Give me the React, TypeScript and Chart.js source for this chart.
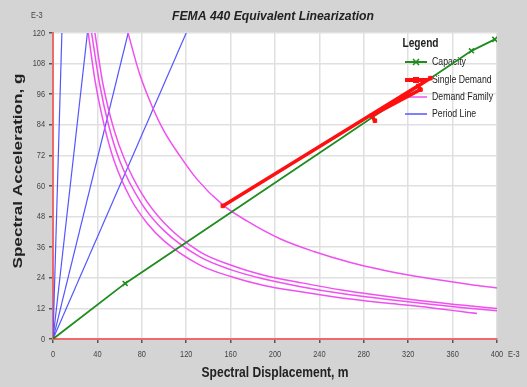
import React, { useEffect, useRef } from "react";
import { Chart, registerables } from "chart.js";

Chart.register(...registerables);

// ---- Data, units: E-3 ----
const capacityX = [0, 65, 377, 398];
const capacityY = [0, 21.8, 113, 117.5];

const singleDemandX = [153, 340, 329, 331, 287, 290];
const singleDemandY = [52.2, 102.3, 99.2, 97.8, 87.6, 85.6];

const demandOuterX = [67, 78, 90, 100, 114, 130, 153, 175, 205, 235, 268, 300, 319, 350, 380, 400];
const demandOuterY = [121, 104, 90.5, 81.5, 72, 62.5, 52.6, 46.2, 39.2, 34.3, 30, 26.8, 25.2, 23, 21.1, 20];

const demandHighX = [37.6, 45, 55, 64.7, 80, 100, 132, 160, 190, 222, 260, 300, 340, 370, 400];
const demandHighY = [120.5, 100, 82, 70.2, 57, 45.6, 34.3, 29, 25, 22.2, 19.2, 16.8, 14.6, 13.2, 12];

const demandMidX = [34.6, 42, 50, 60, 80, 100, 132, 160, 190, 222, 260, 300, 340, 370, 400];
const demandMidY = [120.5, 100, 84, 70, 53, 42.5, 32.3, 27.2, 23.5, 20.6, 17.8, 15.6, 13.6, 12.3, 11.1];

const demandLowX = [31.6, 38, 46, 55, 70, 85, 100, 132, 160, 190, 222, 260, 300, 340, 382];
const demandLowY = [120.5, 101, 84, 70, 55, 45.3, 38.5, 29.1, 24.5, 21, 18.6, 16.1, 14.1, 12.3, 10];

const periodLineEndX = [8, 31, 67.7, 120];
const periodLineEndY = [120, 120, 120, 120];

const legendLabels = ["Capacity", "Single Demand", "Demand Family", "Period Line"];
const chartTitle = "FEMA 440 Equivalent Linearization";
const xTitle = "Spectral Displacement, m";
const yTitle = "Spectral Acceleration, g";
const unitLabel = "E-3";

const GREEN = "#1e8c1e";
const RED = "#ff1010";
const MAGENTA = "#f050f0";
const BLUE = "#5555ff";
const TEXT = "#222";
const TICK_TEXT = "#444";

const pts = (xs: number[], ys: number[]) => xs.map((x, i) => ({ x, y: ys[i] }));

const FONT = "'Liberation Sans', Arial, sans-serif";

// draw text squeezed horizontally by factor sx, or to a target width if given
function txt(ctx: any, s: string, x: number, y: number, font: string, align: string, color: string, sx: number, width?: number) {
  ctx.save();
  ctx.font = font;
  ctx.fillStyle = color;
  ctx.textAlign = align;
  ctx.textBaseline = "middle";
  const k = width ? width / ctx.measureText(s).width : sx;
  ctx.translate(x, y);
  ctx.scale(k, 1);
  ctx.fillText(s, 0, 0);
  ctx.restore();
}

const decorPlugin = {
  id: "decor",
  beforeDraw(chart: any) {
    const { ctx, chartArea } = chart;
    ctx.save();
    ctx.fillStyle = "#d4d4d4";
    ctx.fillRect(0, 0, chart.width, chart.height);
    ctx.fillStyle = "#ffffff";
    ctx.fillRect(chartArea.left, chartArea.top, chartArea.right - chartArea.left, chartArea.bottom - chartArea.top);
    ctx.restore();
  },
  beforeDatasetsDraw(chart: any) {
    const { ctx } = chart;
    txt(ctx, "Legend", 420.5, 44, `bold 12px ${FONT}`, "center", TEXT, 1, 36);
    const rows = [62, 80, 97, 114];
    const colors = [GREEN, RED, MAGENTA, BLUE];
    const widths = [2, 4, 1.5, 1.5];
    ctx.save();
    rows.forEach((y, i) => {
      ctx.strokeStyle = colors[i];
      ctx.lineWidth = widths[i];
      ctx.beginPath();
      ctx.moveTo(405, y);
      ctx.lineTo(427, y);
      ctx.stroke();
      if (i === 0) {
        ctx.lineWidth = 1.5;
        ctx.beginPath();
        ctx.moveTo(413, y - 3);
        ctx.lineTo(419, y + 3);
        ctx.moveTo(419, y - 3);
        ctx.lineTo(413, y + 3);
        ctx.stroke();
      }
      if (i === 1) {
        ctx.fillStyle = RED;
        ctx.fillRect(413, y - 3, 6, 6);
      }
      txt(ctx, legendLabels[i], 432, y, `10.5px ${FONT}`, "left", TEXT, 0.83);
    });
    ctx.restore();
  },
  afterDraw(chart: any) {
    const { ctx, chartArea, scales } = chart;
    const cx = (chartArea.left + chartArea.right) / 2;
    txt(ctx, chartTitle, 273, 16, `italic bold 13.5px ${FONT}`, "center", TEXT, 1, 202);
    txt(ctx, xTitle, cx, 373, `bold 15px ${FONT}`, "center", TEXT, 1, 147);
    // rotated y title
    ctx.save();
    ctx.font = `bold 15px ${FONT}`;
    ctx.fillStyle = TEXT;
    ctx.textAlign = "center";
    ctx.textBaseline = "middle";
    const k = 195 / ctx.measureText(yTitle).width;
    ctx.translate(18, 171);
    ctx.rotate(-Math.PI / 2);
    ctx.scale(k, 0.86);
    ctx.fillText(yTitle, 0, 0);
    ctx.restore();
    // tick labels
    const tf = `9.5px ${FONT}`;
    scales.x.ticks.forEach((t: any) => {
      txt(ctx, String(t.value), scales.x.getPixelForValue(t.value), 354, tf, "center", TICK_TEXT, 0.78);
    });
    scales.y.ticks.forEach((t: any) => {
      txt(ctx, String(t.value), 45, scales.y.getPixelForValue(t.value), tf, "right", TICK_TEXT, 0.78);
    });
    txt(ctx, unitLabel, 31, 15.5, tf, "left", TICK_TEXT, 0.78);
    txt(ctx, unitLabel, 508, 354, tf, "left", TICK_TEXT, 0.78);
  },
};

export default function App() {
  const ref = useRef<HTMLCanvasElement | null>(null);

  useEffect(() => {
    document.body.style.margin = "0";
    if (!ref.current) return;
    const curve = (xs: number[], ys: number[], color: string, width: number) => ({
      data: pts(xs, ys),
      borderColor: color,
      backgroundColor: color,
      borderWidth: width,
      pointRadius: 0,
      fill: false,
      cubicInterpolationMode: "monotone" as const,
    });
    const periodSets = periodLineEndX.map((x, i) => ({
      data: [
        { x: 0, y: 0 },
        { x, y: periodLineEndY[i] },
      ],
      borderColor: BLUE,
      backgroundColor: BLUE,
      borderWidth: 1.2,
      pointRadius: 0,
      fill: false,
    }));
    const chart = new Chart(ref.current, {
      type: "line",
      data: {
        datasets: [
          {
            data: pts(singleDemandX, singleDemandY),
            borderColor: RED,
            backgroundColor: RED,
            borderWidth: 3.5,
            pointStyle: "rect",
            pointRadius: 2.5,
            pointBorderWidth: 1,
            fill: false,
          },
          {
            data: pts(capacityX, capacityY),
            borderColor: GREEN,
            backgroundColor: GREEN,
            borderWidth: 1.8,
            pointStyle: "crossRot",
            pointRadius: 3.5,
            pointBorderWidth: 1.5,
            fill: false,
          },
          curve(demandOuterX, demandOuterY, MAGENTA, 1.5),
          curve(demandHighX, demandHighY, MAGENTA, 1.5),
          curve(demandMidX, demandMidY, MAGENTA, 1.5),
          curve(demandLowX, demandLowY, MAGENTA, 1.5),
          ...periodSets,
        ] as any,
      },
      options: {
        responsive: false,
        animation: false,
        events: [],
        layout: { padding: { top: 33, right: 30, left: 0, bottom: 0 } },
        plugins: {
          legend: { display: false },
          tooltip: { enabled: false },
          title: { display: false },
        },
        scales: {
          x: {
            type: "linear",
            min: 0,
            max: 400,
            ticks: { stepSize: 40, display: false },
            grid: { color: "#e0e0e0", lineWidth: 1.5, tickLength: 4, tickColor: "#555", drawTicks: true },
            border: { color: "#ec6a6a", width: 2 },
            afterFit: (scale: any) => {
              scale.height = 48;
            },
          },
          y: {
            type: "linear",
            min: 0,
            max: 120,
            ticks: { stepSize: 12, display: false },
            grid: { color: "#e0e0e0", lineWidth: 1.5, tickLength: 4, tickColor: "#555", drawTicks: true },
            border: { color: "#ec6a6a", width: 2 },
            afterFit: (scale: any) => {
              scale.width = 53;
            },
          },
        },
      } as any,
      plugins: [decorPlugin],
    });
    return () => chart.destroy();
  }, []);

  return (
    <div style={{ width: 527, height: 387 }}>
      <canvas ref={ref} width={527} height={387} style={{ display: "block" }} />
    </div>
  );
}
